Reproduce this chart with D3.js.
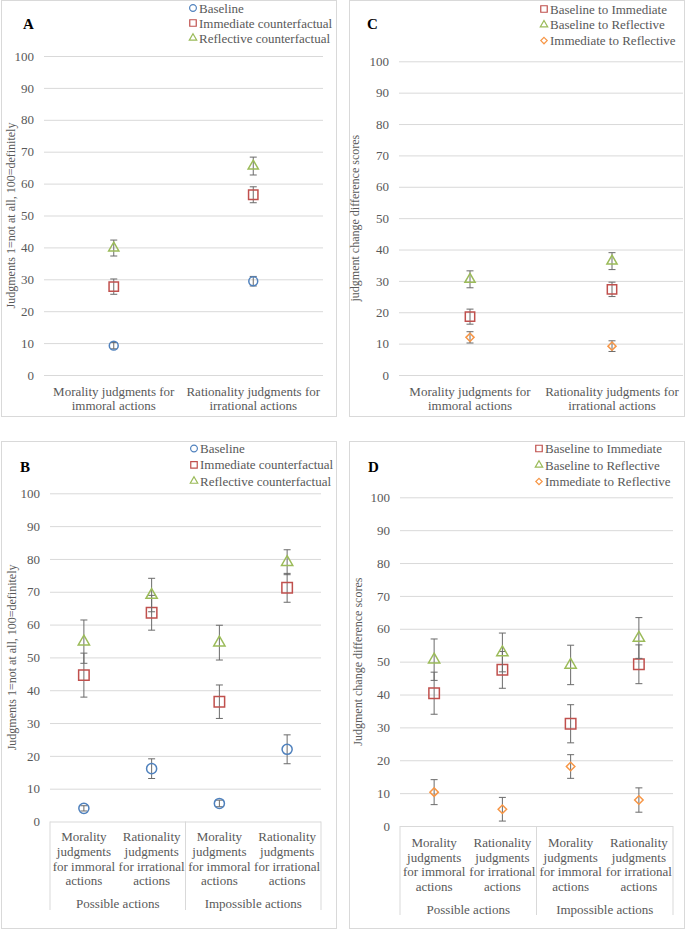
<!DOCTYPE html>
<html>
<head>
<meta charset="utf-8">
<script src="https://cdn.jsdelivr.net/npm/d3@7"></script>
<style>
    body { margin: 0; background: #fff; }
    svg text { font-family: "Liberation Serif", "Times New Roman", serif; fill: #595959; }
</style>
</head>
<body>
<svg id="chart" width="685" height="930"></svg>
<script>
// categories and tick labels
var studyOneCats = [["Morality judgments for", "immoral actions"], ["Rationality judgments for", "irrational actions"]];
var studyTwoCats = [
    ["Morality", "judgments", "for immoral", "actions"],
    ["Rationality", "judgments", "for irrational", "actions"],
    ["Morality", "judgments", "for immoral", "actions"],
    ["Rationality", "judgments", "for irrational", "actions"]
];
var studyTwoGroups = ["Possible actions", "Impossible actions"];
var yTicks = [0, 10, 20, 30, 40, 50, 60, 70, 80, 90, 100];

// panel A: judgments
var aBaseline = [9.2, 29.4], aBaselineErr = [1.0, 1.5];
var aImmediate = [27.7, 56.5], aImmediateErr = [2.4, 2.5];
var aReflective = [39.8, 65.5], aReflectiveErr = [2.5, 2.8];

// panel C: change scores
var cBaseImm = [18.6, 27.3], cBaseImmErr = [2.4, 2.3];
var cBaseRef = [30.5, 36.3], cBaseRefErr = [2.7, 2.7];
var cImmRef = [12.0, 9.2], cImmRefErr = [1.8, 1.7];

// panel B: judgments, possible vs impossible
var bBaseline = [4.0, 16.1, 5.5, 22.0], bBaselineErr = [0.8, 3.0, 1.0, 4.4];
var bImmediate = [44.6, 63.6, 36.5, 71.2], bImmediateErr = [6.7, 5.3, 5.1, 4.4];
var bReflective = [54.8, 69.0, 54.5, 79.0], bReflectiveErr = [6.6, 5.1, 5.3, 3.8];

// panel D: change scores, possible vs impossible
var dBaseImm = [40.4, 47.5, 31.1, 49.2], dBaseImmErr = [6.4, 5.6, 5.8, 5.9];
var dBaseRef = [50.6, 52.8, 49.0, 57.2], dBaseRefErr = [6.3, 5.9, 6.0, 6.2];
var dImmRef = [10.3, 5.1, 18.1, 7.9], dImmRefErr = [3.8, 3.6, 3.6, 3.7];

var colors = { blue: "#4f81bd", red: "#c0504d", green: "#9bbb59", orange: "#f79646" };
var shapes = {
    circle: d3.symbolCircle,
    square: d3.symbolSquare,
    triangle: d3.symbolTriangle,
    diamond: d3.symbolDiamond2
};

var svg = d3.select("#chart");

function drawPanel(p) {
    var g = svg.append("g");

    // panel frame
    g.append("rect")
        .attr("x", p.box[0] + 0.5).attr("y", p.box[1] + 0.5)
        .attr("width", p.box[2] - p.box[0]).attr("height", p.box[3] - p.box[1])
        .attr("fill", "none").attr("stroke", "#d9d9d9");

    var x = d3.scalePoint()
        .domain(d3.range(p.cats.length))
        .range([p.left, p.right])
        .padding(0.5);
    var y = d3.scaleLinear().domain([0, 100]).range([p.y0, p.y100]);

    // gridlines + tick labels
    var yAxis = g.append("g")
        .attr("transform", "translate(" + p.left + ",0)")
        .call(d3.axisLeft(y).tickValues(yTicks).tickSize(-(p.right - p.left)).tickPadding(10));
    yAxis.select(".domain").remove();
    yAxis.selectAll("line").attr("stroke", "#d9d9d9");
    yAxis.attr("font-family", null).attr("font-size", 13);
    yAxis.selectAll("text").attr("fill", "#595959");

    // y axis title
    g.append("text")
        .attr("transform", "translate(" + p.titleX + "," + ((p.y0 + p.y100) / 2) + ") rotate(-90)")
        .attr("text-anchor", "middle")
        .attr("font-size", 12)
        .text(p.yTitle);

    // panel letter
    g.append("text")
        .attr("x", p.letterX).attr("y", p.letterY)
        .attr("font-size", 15).attr("font-weight", "bold")
        .style("fill", "#000")
        .text(p.letter);

    // category labels
    var step = x.step();
    p.cats.forEach(function(lines, i) {
        var t = g.append("text")
            .attr("text-anchor", "middle")
            .attr("font-size", 13);
        lines.forEach(function(line, j) {
            t.append("tspan")
                .attr("x", x(i))
                .attr("y", p.catY + j * p.catLine)
                .text(line);
        });
    });

    if (p.groups) {
        var seps = [p.left, x(1) + step / 2, p.right];
        g.selectAll(".sep")
            .data(seps)
            .enter()
            .append("line")
            .attr("x1", function(d) { return d; })
            .attr("x2", function(d) { return d; })
            .attr("y1", p.y0)
            .attr("y2", p.sepBottom)
            .attr("stroke", "#d9d9d9");
        p.groups.forEach(function(name, k) {
            g.append("text")
                .attr("x", (x(2 * k) + x(2 * k + 1)) / 2)
                .attr("y", p.groupY)
                .attr("text-anchor", "middle")
                .attr("font-size", 13)
                .text(name);
        });
    }

    // error bars then markers
    p.series.forEach(function(s) {
        var pts = s.values.map(function(v, i) { return { i: i, v: v, e: s.errors[i] }; });
        var eb = g.append("g").attr("stroke", "#6b6b6b").attr("stroke-width", 1);
        eb.selectAll(".bar")
            .data(pts)
            .enter()
            .append("line")
            .attr("x1", function(d) { return x(d.i); })
            .attr("x2", function(d) { return x(d.i); })
            .attr("y1", function(d) { return y(d.v - d.e); })
            .attr("y2", function(d) { return y(d.v + d.e); });
        [-1, 1].forEach(function(sign) {
            eb.selectAll(".cap" + sign)
                .data(pts)
                .enter()
                .append("line")
                .attr("x1", function(d) { return x(d.i) - 3.5; })
                .attr("x2", function(d) { return x(d.i) + 3.5; })
                .attr("y1", function(d) { return y(d.v + sign * d.e); })
                .attr("y2", function(d) { return y(d.v + sign * d.e); });
        });

        g.selectAll(".m-" + s.shape)
            .data(pts)
            .enter()
            .append("path")
            .attr("d", d3.symbol().type(shapes[s.shape]).size(p.markerSize[s.shape]))
            .attr("transform", function(d) { return "translate(" + x(d.i) + "," + y(d.v) + ")"; })
            .attr("fill", "none")
            .attr("stroke", s.color)
            .attr("stroke-width", 1.5);
    });

    // legend
    p.series.forEach(function(s, k) {
        var ly = p.legendY + k * p.legendStep;
        g.append("path")
            .attr("d", d3.symbol().type(shapes[s.shape]).size(p.legendSize[s.shape]))
            .attr("transform", "translate(" + p.legendX + "," + ly + ")")
            .attr("fill", "none")
            .attr("stroke", s.color)
            .attr("stroke-width", 1.2);
        g.append("text")
            .attr("x", p.legendX + 6)
            .attr("y", ly + 4.5)
            .attr("font-size", 13)
            .text(s.name);
    });
}

var smallMarks = { circle: 62, square: 88, triangle: 45, diamond: 42 };
var bigMarks = { circle: 80, square: 110, triangle: 55, diamond: 46 };
var legendMarks = { circle: 36, square: 42, triangle: 24, diamond: 26 };

drawPanel({
    letter: "A", letterX: 23, letterY: 29,
    box: [1, 0, 336, 416],
    left: 44, right: 323, y0: 375, y100: 56,
    titleX: 15, yTitle: "Judgments 1=not at all, 100=definitely",
    cats: studyOneCats, catY: 395.5, catLine: 14,
    legendX: 193, legendY: 8, legendStep: 15,
    markerSize: smallMarks, legendSize: legendMarks,
    series: [
        { name: "Baseline", shape: "circle", color: colors.blue, values: aBaseline, errors: aBaselineErr },
        { name: "Immediate counterfactual", shape: "square", color: colors.red, values: aImmediate, errors: aImmediateErr },
        { name: "Reflective counterfactual", shape: "triangle", color: colors.green, values: aReflective, errors: aReflectiveErr }
    ]
});

drawPanel({
    letter: "C", letterX: 367, letterY: 29,
    box: [349, 0, 684, 416],
    left: 399, right: 683, y0: 375, y100: 61.3,
    titleX: 359, yTitle: "judgment change difference scores",
    cats: studyOneCats, catY: 395.5, catLine: 14,
    legendX: 544, legendY: 9, legendStep: 15.8,
    markerSize: smallMarks, legendSize: legendMarks,
    series: [
        { name: "Baseline to Immediate", shape: "square", color: colors.red, values: cBaseImm, errors: cBaseImmErr },
        { name: "Baseline  to Reflective", shape: "triangle", color: colors.green, values: cBaseRef, errors: cBaseRefErr },
        { name: "Immediate to Reflective", shape: "diamond", color: colors.orange, values: cImmRef, errors: cImmRefErr }
    ]
});

drawPanel({
    letter: "B", letterX: 20, letterY: 472,
    box: [1, 441, 336, 928],
    left: 50, right: 321, y0: 821.5, y100: 493.3,
    titleX: 16, yTitle: "Judgments 1=not at all, 100=definitely",
    cats: studyTwoCats, catY: 841, catLine: 14.8,
    groups: studyTwoGroups, groupY: 908, sepBottom: 910,
    legendX: 194, legendY: 448.5, legendStep: 16.3,
    markerSize: bigMarks, legendSize: legendMarks,
    series: [
        { name: "Baseline", shape: "circle", color: colors.blue, values: bBaseline, errors: bBaselineErr },
        { name: "Immediate counterfactual", shape: "square", color: colors.red, values: bImmediate, errors: bImmediateErr },
        { name: "Reflective counterfactual", shape: "triangle", color: colors.green, values: bReflective, errors: bReflectiveErr }
    ]
});

drawPanel({
    letter: "D", letterX: 368, letterY: 472,
    box: [349, 441, 684, 928],
    left: 400, right: 673, y0: 826, y100: 497.3,
    titleX: 362, yTitle: "Judgment change difference scores",
    cats: studyTwoCats, catY: 847, catLine: 14.6,
    groups: studyTwoGroups, groupY: 913.5, sepBottom: 915,
    legendX: 539, legendY: 448.5, legendStep: 16.5,
    markerSize: bigMarks, legendSize: legendMarks,
    series: [
        { name: "Baseline to Immediate", shape: "square", color: colors.red, values: dBaseImm, errors: dBaseImmErr },
        { name: "Baseline  to Reflective", shape: "triangle", color: colors.green, values: dBaseRef, errors: dBaseRefErr },
        { name: "Immediate to Reflective", shape: "diamond", color: colors.orange, values: dImmRef, errors: dImmRefErr }
    ]
});
</script>
</body>
</html>
